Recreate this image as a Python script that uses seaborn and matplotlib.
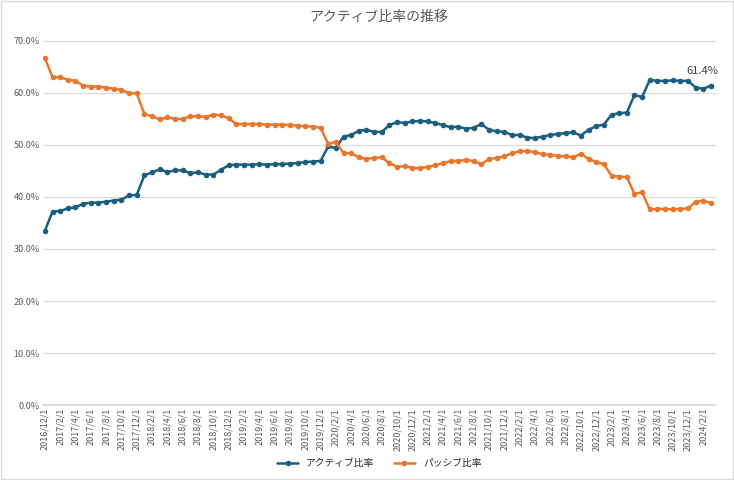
import matplotlib
matplotlib.use("Agg")
import matplotlib.pyplot as plt
import seaborn as sns
import pandas as pd
import numpy as np

sns.set_theme(style="white")
plt.rcParams['font.family'] = ['Noto Sans CJK JP', 'DejaVu Sans']

months = pd.date_range("2016-12-01", periods=88, freq="MS")
labels = [f"{d.year}/{d.month}/1" for d in months]

active = [33.5, 37.2, 37.3, 37.8, 38.0, 38.7, 38.9, 38.9, 39.1, 39.3, 39.5, 40.3, 40.4,
          44.2, 44.7, 45.3, 44.8, 45.1, 45.1, 44.6, 44.7, 44.3, 44.3, 45.2,
          46.1, 46.2, 46.2, 46.2, 46.3, 46.2, 46.3, 46.3, 46.4, 46.5, 46.7, 46.8, 46.9,
          49.7, 49.4, 51.6, 51.9, 52.7, 52.9, 52.5, 52.5,
          53.8, 54.4, 54.2, 54.5, 54.6, 54.5, 54.2, 53.8, 53.4, 53.5, 53.1, 53.3, 54.0,
          52.9, 52.6, 52.5, 51.9, 51.9, 51.4, 51.3, 51.6, 51.9, 52.1, 52.3, 52.4, 51.8,
          52.9, 53.6, 53.9, 55.8, 56.1, 56.2, 59.6, 59.2,
          62.5, 62.3, 62.3, 62.4, 62.3, 62.3, 61.0, 60.8, 61.4]
passive = [66.7, 63.0, 63.0, 62.5, 62.3, 61.4, 61.2, 61.2, 61.0, 60.8, 60.6, 59.9, 59.9,
           55.9, 55.5, 54.9, 55.3, 55.0, 55.0, 55.5, 55.5, 55.4, 55.8, 55.7,
           55.1, 54.0, 54.0, 54.0, 54.0, 53.9, 53.9, 53.9, 53.8, 53.7, 53.6, 53.5, 53.3,
           50.2, 50.6, 48.4, 48.4, 47.6, 47.3, 47.5, 47.6,
           46.5, 45.8, 45.9, 45.6, 45.5, 45.8, 46.1, 46.5, 46.9, 46.9, 47.1, 46.9, 46.3,
           47.3, 47.5, 47.8, 48.4, 48.8, 48.8, 48.6, 48.2, 48.1, 47.9, 47.8, 47.6, 48.3,
           47.3, 46.7, 46.3, 44.1, 43.9, 43.8, 40.6, 40.9,
           37.6, 37.7, 37.7, 37.6, 37.7, 37.8, 39.1, 39.3, 38.8]

df = pd.DataFrame({"x": np.arange(88), "アクティブ比率": active, "パッシブ比率": passive})
long = df.melt("x", var_name="series", value_name="v")

fig, ax = plt.subplots(figsize=(7.34, 4.80), dpi=100)
fig.subplots_adjust(left=0.058, right=0.975, top=0.915, bottom=0.156)
sns.lineplot(data=long, x="x", y="v", hue="series", palette=["#1B5F80", "#E8772E"],
             marker="o", markersize=4, markeredgewidth=0, linewidth=1.8, ax=ax, legend=True)

ax.set_ylim(0, 70)
ax.set_yticks(range(0, 71, 10))
ax.set_yticklabels([f"{v}.0%" for v in range(0, 71, 10)], fontsize=6.5, color="#595959")
ax.set_xlim(-0.3, 87.6)
ax.set_xticks(range(0, 88, 2))
ax.set_xticklabels(labels[::2], rotation=90, fontsize=6.5, color="#595959")
ax.set_xlabel("")
ax.set_ylabel("")
ax.grid(axis="y", color="#D9D9D9", linewidth=0.8)
for s in ["left", "right", "top"]:
    ax.spines[s].set_visible(False)
ax.spines["bottom"].set_color("#D9D9D9")
ax.tick_params(axis="both", length=0, pad=2)
ax.set_title("アクティブ比率の推移", fontsize=10, color="#595959", pad=14)
ax.annotate(f"{active[-1]}%", (87, active[-1]), xytext=(-6, 8), textcoords="offset points",
            fontsize=8, color="#404040", ha="center")
ax.legend(loc="center", bbox_to_anchor=(0.5, -0.16), ncol=2, frameon=False,
          fontsize=7, handlelength=2.2, columnspacing=2)
fig.patches.append(plt.Rectangle((0.002, 0.002), 0.996, 0.996, transform=fig.transFigure,
                                 fill=False, edgecolor="#D9D9D9", linewidth=1))
fig.savefig("out.png", dpi=100)
